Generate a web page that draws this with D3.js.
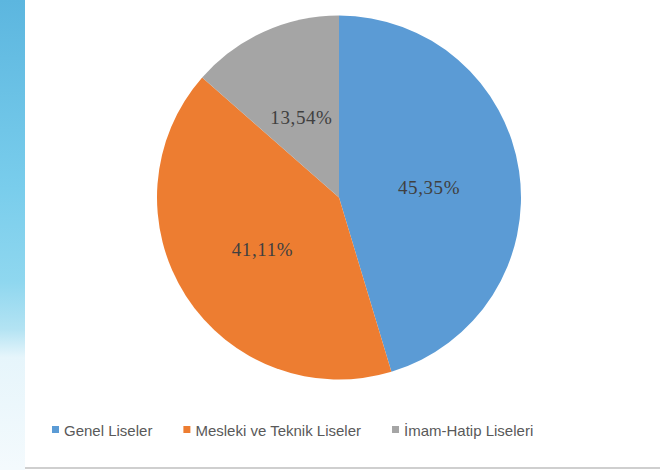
<!DOCTYPE html>
<html>
<head>
<meta charset="utf-8">
<script src="https://cdn.jsdelivr.net/npm/d3@7"></script>
<style>
  body { margin: 0; background: #fff; }
  svg { display: block; }
</style>
</head>
<body>
<svg width="660" height="470"></svg>
<script>
const kategoriler = ['Genel Liseler', 'Mesleki ve Teknik Liseler', 'İmam-Hatip Liseleri'];
const oranlar = [45.35, 41.11, 13.54];
const etiketler = ['45,35%', '41,11%', '13,54%'];
const renkler = ['#5b9bd5', '#ed7d31', '#a5a5a5'];

const svg = d3.select('svg');
const width = +svg.attr('width');
const height = +svg.attr('height');

// ---- Sol kenardaki gökyüzü şeridi
const defs = svg.append('defs');
const grad = defs.append('linearGradient')
    .attr('id', 'gokyuzu')
    .attr('x1', 0).attr('y1', 0).attr('x2', 0).attr('y2', 1);
[[0, '#5cb6df'], [0.4, '#79cdec'], [0.6, '#8fd7ef'], [0.7, '#b3e3f3'], [0.76, '#e6f5fb'], [1, '#f4fafd']]
    .forEach(([o, c]) => grad.append('stop').attr('offset', o).attr('stop-color', c));

svg.append('rect')
    .attr('x', 0).attr('y', 0)
    .attr('width', 25).attr('height', height)
    .attr('fill', 'url(#gokyuzu)');

svg.append('line')
    .attr('x1', 25).attr('x2', width)
    .attr('y1', 468).attr('y2', 468)
    .attr('stroke', '#cfcfcf')
    .attr('stroke-width', 2);

// ---- Pasta
const cx = 339, cy = 197.5, r = 182;

const pie = d3.pie().sort(null).value(d => d.v);
const arc = d3.arc().innerRadius(0).outerRadius(r);

const data = kategoriler.map((k, i) => ({ k, v: oranlar[i], e: etiketler[i], c: renkler[i] }));

const g = svg.append('g').attr('transform', `translate(${cx}, ${cy})`);

g.selectAll('path')
    .data(pie(data))
    .enter()
    .append('path')
    .attr('d', arc)
    .attr('fill', d => d.data.c);

g.selectAll('text.etiket')
    .data(pie(data))
    .enter()
    .append('text')
    .attr('class', 'etiket')
    .attr('transform', d => `translate(${arc.centroid(d)})`)
    .attr('text-anchor', 'middle')
    .attr('dy', '0.5em')
    .style('font-family', '"Liberation Serif", "Times New Roman", serif')
    .style('font-size', '19px')
    .style('letter-spacing', '0.6px')
    .style('fill', '#404040')
    .text(d => d.data.e);

// ---- Lejant
const lejant = svg.append('g').attr('transform', 'translate(52, 430)');
let x = 0;
data.forEach(d => {
    const item = lejant.append('g').attr('transform', `translate(${x}, 0)`);
    item.append('rect')
        .attr('x', 0).attr('y', -4)
        .attr('width', 7).attr('height', 7)
        .attr('fill', d.c);
    const t = item.append('text')
        .attr('x', 12)
        .attr('dy', '0.38em')
        .style('font-family', '"Liberation Sans", Arial, sans-serif')
        .style('font-size', '15px')
        .style('fill', '#595959')
        .text(d.k);
    x += 12 + t.node().getComputedTextLength() + 31;
});
</script>
</body>
</html>
